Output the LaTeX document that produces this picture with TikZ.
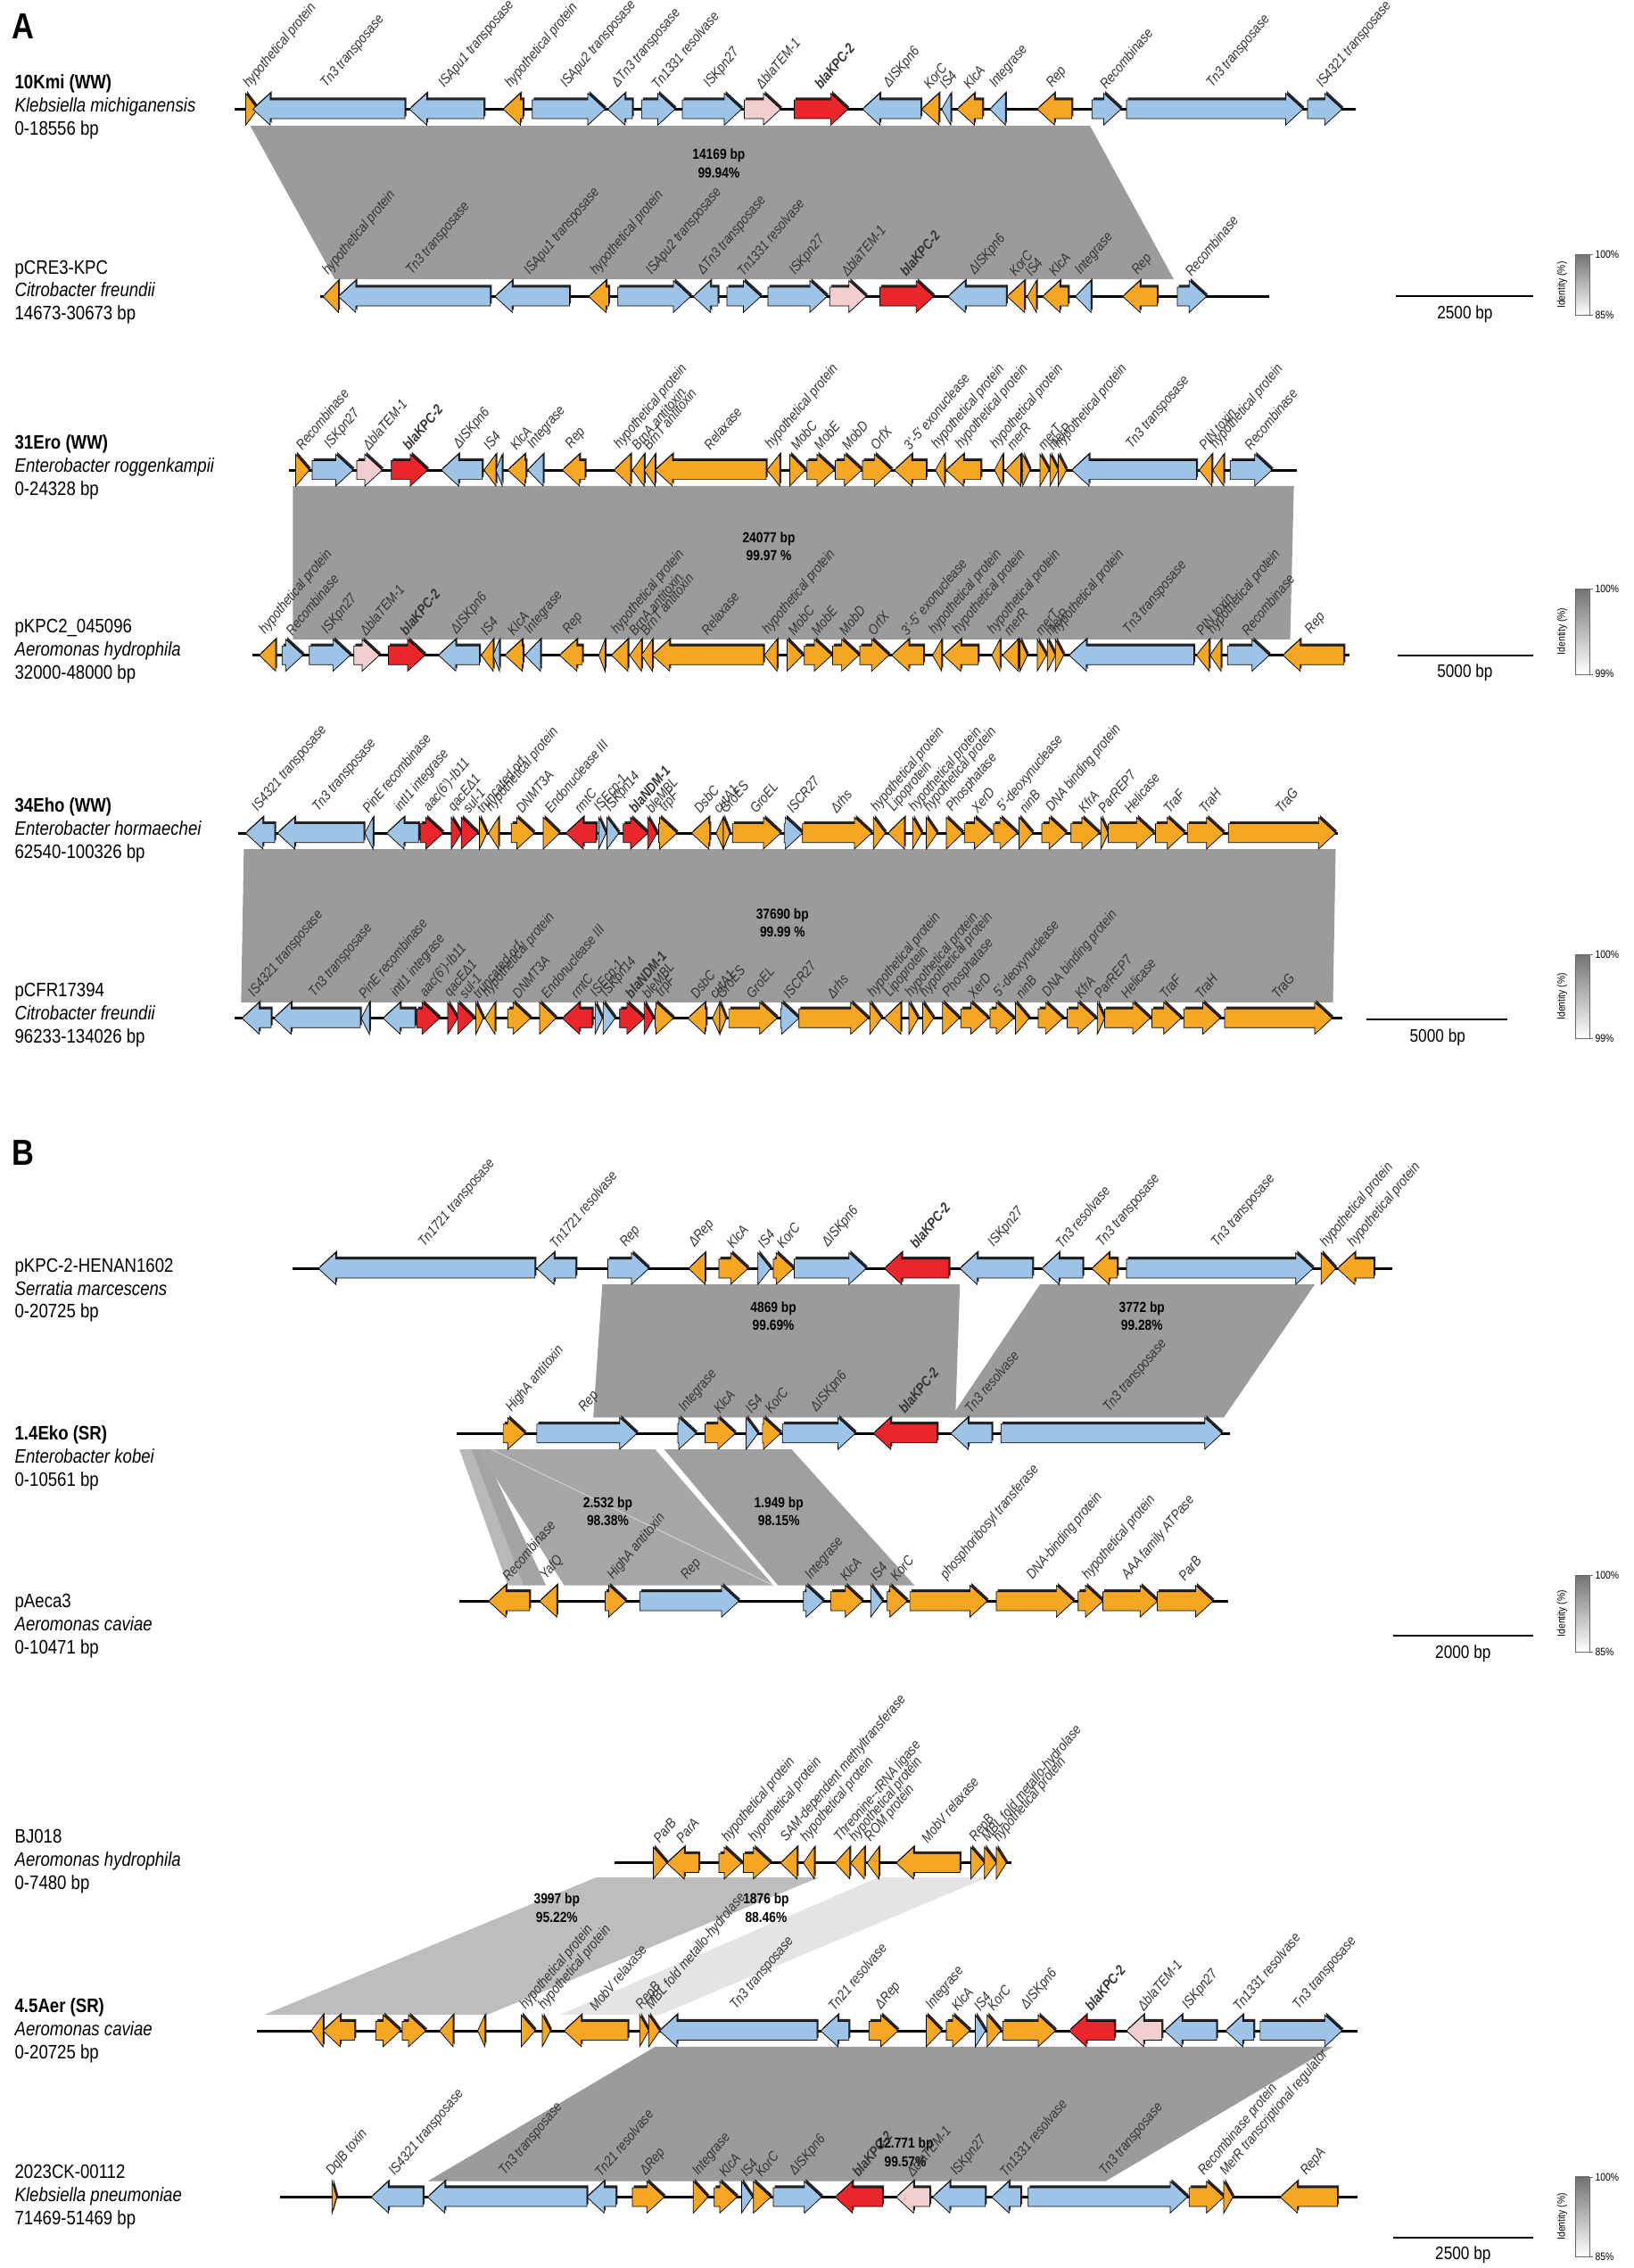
\documentclass[tikz,border=0pt]{standalone}
\usepackage{fontspec}
\setmainfont{Liberation Sans}[FakeStretch=0.85]
\usetikzlibrary{positioning}
\definecolor{cblue}{HTML}{9DC3E6}
\definecolor{corange}{HTML}{F5A623}
\definecolor{cred}{HTML}{E8262B}
\definecolor{cpink}{HTML}{F2CECE}
\definecolor{bandhi}{HTML}{9B9B9B}
\definecolor{bandmid}{HTML}{A7A7A7}
\definecolor{bandlo}{HTML}{BDBDBD}
\definecolor{bandfaint}{HTML}{E4E4E4}
\tikzstyle{gene}=[draw=black,line width=0.45pt,line join=miter]
\tikzstyle{gshade}=[fill=black!85]
\tikzstyle{glbl}=[anchor=south west,rotate=50,inner sep=0pt,text=black!80,font=\fontsize{9.8}{9.8}\selectfont\itshape]
\tikzstyle{bbone}=[line width=1.8pt,black]
\tikzstyle{blbl}=[align=center,inner sep=0pt,font=\fontsize{10}{12.5}\selectfont\bfseries]
\tikzstyle{plbl}=[anchor=west,align=left,inner sep=0pt,font=\fontsize{13.5}{16}\selectfont]
\tikzstyle{sbar}=[line width=1.2pt,black]
\tikzstyle{sbtxt}=[inner sep=0pt,font=\fontsize{12.5}{12.5}\selectfont]
\tikzstyle{lgtxt}=[inner sep=0pt,font=\fontsize{7.5}{7.5}\selectfont]
\tikzstyle{panel}=[inner sep=0pt,font=\fontsize{25}{25}\selectfont\bfseries]

\newcommand{\kpc}{\textbf{blaKPC-2}}
\newcommand{\ndm}{\textbf{blaNDM-1}}
\newcommand{\blemb}{bleMBL}
\newcommand{\dtem}{ΔblaTEM-1}

\newcounter{gid}
% [label]{base x}{tip x}{row y}{fill}
\newcommand{\gene}[5][]{%
  \pgfmathsetmacro\gdir{(#3>#2) ? 1 : -1}%
  \pgfmathsetmacro\ghd{#3-\gdir*min(19,abs(#3-#2))}%
  \fill[gshade,shift={(1.6,-1.6)}] (#2,#4-6.5) -- (\ghd,#4-6.5) -- (\ghd,#4-11) -- (#3,#4) -- (\ghd,#4+11) -- (\ghd,#4+6.5) -- (#2,#4+6.5) -- cycle;
  \filldraw[gene,fill=#5] (#2,#4-6.5) -- (\ghd,#4-6.5) -- (\ghd,#4-11) -- (#3,#4) -- (\ghd,#4+11) -- (\ghd,#4+6.5) -- (#2,#4+6.5) -- cycle;
  \ifx\relax#1\relax\else
    \stepcounter{gid}%
    \node[glbl] (gl\arabic{gid}) at ({(#2+#3)/2},#4-13) {#1};%
  \fi
}
% {name}{top y}{bottom y}{low value}
\newcommand{\idleg}[4]{%
  \shade[top color=black!55,bottom color=white,draw=black!60,line width=0.3pt] (1731,#2) rectangle (1747,#3);
  \draw[black!60,line width=0.3pt] (1747,#2) -- (1751,#2) (1747,#3) -- (1751,#3);
  \node[lgtxt,anchor=west] (#1top) at (1753,#2) {100\%};
  \node[lgtxt,anchor=west] (#1low) at (1753,#3) {#4\%};
  \node[lgtxt,rotate=90] (#1ttl) at (1717,{(#2+#3)/2}) {Identity (\%)};
}

\newcommand{\kmigenes}[2]{%
  \gene[Tn3 transposase]{445}{278}{#1}{cblue}
  \gene[ISApu1 transposase]{532}{450}{#1}{cblue}
  \gene[hypothetical protein]{575}{553}{#1}{corange}
  \gene[ISApu2 transposase]{585}{665}{#1}{cblue}
  \gene[ΔTn3 transposase]{695}{668}{#1}{cblue}
  \gene[Tn1331 resolvase]{705}{742}{#1}{cblue}
  \gene[ISKpn27]{750}{815}{#1}{cblue}
  \gene[\dtem]{818}{858}{#1}{cpink}
  \gene[\kpc]{873}{932}{#1}{cred}
  \gene[ΔISKpn6]{1012}{948}{#1}{cblue}
  \gene[KorC]{1032}{1013}{#1}{corange}
  \gene[IS4]{1045}{1035}{#1}{#2}
  \gene[KlcA]{1080}{1052}{#1}{corange}
  \gene[Integrase]{1105}{1088}{#1}{cblue}
  \gene[Rep]{1178}{1140}{#1}{corange}
  \gene[Recombinase]{1200}{1232}{#1}{cblue}
}

\newcommand{\erogenes}[1]{%
  \gene[ISKpn27]{343}{388}{#1}{cblue}
  \gene[\dtem]{392}{420}{#1}{cpink}
  \gene[\kpc]{430}{470}{#1}{cred}
  \gene[ΔISKpn6]{530}{485}{#1}{cblue}
  \gene[IS4]{545}{532}{#1}{corange}
  \gene{552}{545}{#1}{cblue}
  \gene[KlcA]{578}{558}{#1}{corange}
  \gene[Integrase]{597}{580}{#1}{cblue}
  \gene[Rep]{643}{618}{#1}{corange}
  \gene[hypothetical protein]{693}{675}{#1}{corange}
  \gene[BrnA antitoxin]{708}{695}{#1}{corange}
  \gene[BrnT antitoxin]{720}{708}{#1}{corange}
  \gene[Relaxase]{842}{720}{#1}{corange}
  \gene[hypothetical protein]{857}{843}{#1}{corange}
  \gene[MobC]{868}{885}{#1}{corange}
  \gene[MobE]{887}{917}{#1}{corange}
  \gene[MobD]{918}{947}{#1}{corange}
  \gene[OrfX]{948}{980}{#1}{corange}
  \gene[3'-5' exonuclease]{1018}{983}{#1}{corange}
  \gene[hypothetical protein]{1038}{1028}{#1}{corange}
  \gene[hypothetical protein]{1078}{1040}{#1}{corange}
  \gene[hypothetical protein]{1102}{1093}{#1}{corange}
  \gene[merR]{1122}{1105}{#1}{corange}
  \gene{1124}{1132}{#1}{corange}
  \gene[merT]{1143}{1153}{#1}{corange}
  \gene[merP]{1154}{1163}{#1}{corange}
  \gene[hypothetical protein]{1163}{1172}{#1}{corange}
  \gene[Tn3 transposase]{1315}{1178}{#1}{cblue}
  \gene[PIN toxin]{1332}{1318}{#1}{corange}
  \gene[hypothetical protein]{1345}{1333}{#1}{corange}
  \gene[Recombinase]{1352}{1398}{#1}{cblue}
}

\newcommand{\ehogenes}[1]{%
  \gene[IS4321 transposase]{302}{270}{#1}{cblue}
  \gene[Tn3 transposase]{400}{305}{#1}{cblue}
  \gene[PinE recombinase]{410}{401}{#1}{cblue}
  \gene[intI1 integrase]{460}{425}{#1}{cblue}
  \gene[aac(6')-Ib11]{462}{487}{#1}{cred}
  \gene[qacEΔ1]{496}{507}{#1}{cred}
  \gene[sul-1]{507}{525}{#1}{cred}
  \gene[truncated orf]{527}{535}{#1}{corange}
  \gene[hypothetical protein]{548}{537}{#1}{corange}
  \gene[DNMT3A]{562}{587}{#1}{corange}
  \gene[Endonuclease III]{597}{615}{#1}{corange}
  \gene[rmtC]{655}{622}{#1}{cred}
  \gene[ISEcp-1]{658}{666}{#1}{cblue}
  \gene[ISKpn14]{667}{680}{#1}{cblue}
  \gene[\ndm]{685}{712}{#1}{cred}
  \gene[\blemb]{712}{722}{#1}{cred}
  \gene[trpF]{724}{744}{#1}{corange}
  \gene[DsbC]{780}{760}{#1}{corange}
  \gene[cutA1]{795}{787}{#1}{corange}
  \gene[GroES]{795}{802}{#1}{corange}
  \gene[GroEL]{805}{858}{#1}{corange}
  \gene[ISCR27]{862}{882}{#1}{cblue}
  \gene[Δrhs]{882}{958}{#1}{corange}
  \gene[hypothetical protein]{960}{973}{#1}{corange}
  \gene[Lipoprotein]{994}{976}{#1}{corange}
  \gene[hypothetical protein]{1003}{1013}{#1}{corange}
  \gene[hypothetical protein]{1018}{1030}{#1}{corange}
  \gene[Phosphatase]{1040}{1058}{#1}{corange}
  \gene[XerD]{1060}{1090}{#1}{corange}
  \gene[5'-deoxynuclease]{1092}{1118}{#1}{corange}
  \gene[ninB]{1120}{1135}{#1}{corange}
  \gene[DNA binding protein]{1145}{1172}{#1}{corange}
  \gene[KfrA]{1177}{1208}{#1}{corange}
  \gene[ParREP7]{1210}{1218}{#1}{corange}
  \gene[Helicase]{1218}{1268}{#1}{corange}
  \gene[TraF]{1270}{1302}{#1}{corange}
  \gene[TraH]{1305}{1345}{#1}{corange}
  \gene[TraG]{1350}{1468}{#1}{corange}
}

\begin{document}
\begin{tikzpicture}[x=0.629pt,y=-1pt]
\useasboundingbox[fill=white] (0,0) rectangle (1795,1568);

% identity bands
\fill[bandhi] (275,87) -- (1198,87) -- (1290,193) -- (368,193) -- cycle;
\fill[bandhi] (322,336) -- (1422,336) -- (1418,442) -- (322,442) -- cycle;
\fill[bandhi] (268,587) -- (1468,587) -- (1465,693) -- (265,693) -- cycle;
\fill[bandhi] (662,888) -- (1055,888) -- (1050,980) -- (652,980) -- cycle;
\fill[bandhi] (1143,888) -- (1445,888) -- (1345,980) -- (1045,980) -- cycle;
\fill[black!28] (505,1002) -- (518,1002) -- (575,1096) -- (558,1096) -- cycle;
\fill[black!36] (518,1002) -- (530,1002) -- (600,1096) -- (575,1096) -- cycle;
\fill[bandmid] (525,1002) -- (720,1002) -- (850,1096) -- (620,1096) -- cycle;
\fill[bandmid!95!black] (730,1002) -- (870,1002) -- (1005,1096) -- (855,1096) -- cycle;
\draw[black!15,line width=0.5pt] (540,1002) -- (850,1096);
\draw[white,line width=1pt] (725,1002) -- (853,1096);
\fill[bandlo] (655,1298) -- (900,1298) -- (535,1393) -- (290,1393) -- cycle;
\fill[bandfaint] (965,1298) -- (1085,1298) -- (725,1393) -- (615,1393) -- cycle;
\fill[bandhi] (720,1415) -- (1465,1415) -- (1215,1508) -- (470,1508) -- cycle;

\node[blbl] (b1) at (790,113) {14169 bp\\99.94\%};
\node[blbl] (b2) at (845,378) {24077 bp\\99.97 \%};
\node[blbl] (b3) at (860,638) {37690 bp\\99.99 \%};
\node[blbl] (b4) at (850,910) {4869 bp\\99.69\%};
\node[blbl] (b5) at (1255,910) {3772 bp\\99.28\%};
\node[blbl] (b6) at (668,1045) {2.532 bp\\98.38\%};
\node[blbl] (b7) at (856,1045) {1.949 bp\\98.15\%};
\node[blbl] (b8) at (612,1319) {3997 bp\\95.22\%};
\node[blbl] (b9) at (842,1319) {1876 bp\\88.46\%};
\node[blbl] (b10) at (995,1488) {12.771 bp\\99.57\%};

% panel A
\node[panel] (pA) at (25,18) {A};
\node[plbl] (kmi) at (16,74) {\textbf{10Kmi (WW)}\\\textit{Klebsiella michiganensis}\\0-18556 bp};
\draw[bbone] (258,75.5) -- (1490,75.5);
\gene[hypothetical protein]{270}{283}{75.5}{corange}
\kmigenes{75.5}{cblue}
\gene[Tn3 transposase]{1238}{1432}{75.5}{cblue}
\gene[IS4321 transposase]{1437}{1475}{75.5}{cblue}

\node[plbl] (cre) at (16,202) {pCRE3-KPC\\\textit{Citrobacter freundii}\\14673-30673 bp};
\draw[bbone] (352,205) -- (1395,205);
\gene[hypothetical protein]{372}{355}{205}{corange}
\begin{scope}[shift={(94,0)}]
\kmigenes{205}{corange}
\end{scope}
\coordinate (sbA) at (1610,205);
\draw[sbar] (1534,205) -- (1685,205);
\node[sbtxt,below=6pt of sbA] (sbtA) {2500 bp};
\idleg{lgA}{176}{218}{85}

\node[plbl] (ero) at (16,323) {\textbf{31Ero (WW)}\\\textit{Enterobacter roggenkampii}\\0-24328 bp};
\draw[bbone] (318,325) -- (1425,325);
\gene[Recombinase]{325}{340}{325}{corange}
\erogenes{325}

\node[plbl] (kpcb) at (16,450) {pKPC2\_045096\\\textit{Aeromonas hydrophila}\\32000-48000 bp};
\draw[bbone] (277,453) -- (1483,453);
\gene[hypothetical protein]{303}{285}{453}{corange}
\gene[Recombinase]{310}{333}{453}{cblue}
\begin{scope}[shift={(-3,0)}]
\erogenes{453}
\end{scope}
\gene{665}{658}{453}{corange}
\gene[Rep]{1477}{1410}{453}{corange}
\coordinate (sbB) at (1610,453);
\draw[sbar] (1536,453) -- (1685,453);
\node[sbtxt,below=6pt of sbB] (sbtB) {5000 bp};
\idleg{lgB}{407}{466}{99}

\node[plbl] (eho) at (16,574) {\textbf{34Eho (WW)}\\\textit{Enterobacter hormaechei}\\62540-100326 bp};
\draw[bbone] (262,576) -- (1470,576);
\ehogenes{576}

\node[plbl] (cfr) at (16,702) {pCFR17394\\\textit{Citrobacter freundii}\\96233-134026 bp};
\draw[bbone] (258,704) -- (1475,704);
\begin{scope}[shift={(-4,0)}]
\ehogenes{704}
\end{scope}
\coordinate (sbC) at (1580,705);
\draw[sbar] (1502,705) -- (1657,705);
\node[sbtxt,below=6pt of sbC] (sbtC) {5000 bp};
\idleg{lgC}{660}{718}{99}

% panel B
\node[panel] (pB) at (25,797) {B};
\node[plbl] (hen) at (16,892) {pKPC-2-HENAN1602\\\textit{Serratia marcescens}\\0-20725 bp};
\draw[bbone] (322,877) -- (1530,877);
\gene[Tn1721 transposase]{588}{350}{877}{cblue}
\gene[Tn1721 resolvase]{633}{590}{877}{cblue}
\gene[Rep]{668}{713}{877}{cblue}
\gene[ΔRep]{775}{757}{877}{corange}
\gene[KlcA]{790}{822}{877}{corange}
\gene[IS4]{833}{847}{877}{cblue}
\gene[KorC]{850}{872}{877}{corange}
\gene[ΔISKpn6]{873}{952}{877}{cblue}
\gene[\kpc]{1043}{972}{877}{cred}
\gene[ISKpn27]{1135}{1055}{877}{cblue}
\gene[Tn3 resolvase]{1190}{1145}{877}{cblue}
\gene[Tn3 transposase]{1228}{1200}{877}{corange}
\gene[Tn3 transposase]{1238}{1443}{877}{cblue}
\gene[hypothetical protein]{1452}{1468}{877}{corange}
\gene[hypothetical protein]{1510}{1470}{877}{corange}

\node[plbl] (eko) at (16,1008) {\textbf{1.4Eko (SR)}\\\textit{Enterobacter kobei}\\0-10561 bp};
\draw[bbone] (502,991) -- (1352,991);
\gene[HighA antitoxin]{553}{577}{991}{corange}
\gene[Rep]{590}{700}{991}{cblue}
\gene[Integrase]{745}{765}{991}{cblue}
\gene[KlcA]{775}{808}{991}{corange}
\gene[IS4]{820}{833}{991}{cblue}
\gene[KorC]{838}{858}{991}{corange}
\gene[ΔISKpn6]{860}{940}{991}{cblue}
\gene[\kpc]{1030}{960}{991}{cred}
\gene[Tn3 resolvase]{1090}{1045}{991}{cblue}
\gene[Tn3 transposase]{1100}{1343}{991}{cblue}

\node[plbl] (aeca) at (16,1124) {pAeca3\\\textit{Aeromonas caviae}\\0-10471 bp};
\draw[bbone] (505,1107) -- (1350,1107);
\gene[Recombinase]{582}{537}{1107}{corange}
\gene[YafQ]{612}{593}{1107}{corange}
\gene[HighA antitoxin]{665}{688}{1107}{corange}
\gene[Rep]{703}{812}{1107}{cblue}
\gene[Integrase]{883}{905}{1107}{cblue}
\gene[KlcA]{913}{948}{1107}{corange}
\gene[IS4]{957}{970}{1107}{cblue}
\gene[KorC]{975}{997}{1107}{corange}
\gene[phosphoribosyl transferase]{1000}{1085}{1107}{corange}
\gene[DNA-binding protein]{1095}{1180}{1107}{corange}
\gene[hypothetical protein]{1185}{1212}{1107}{corange}
\gene[AAA family ATPase]{1212}{1272}{1107}{corange}
\gene[ParB]{1272}{1333}{1107}{corange}
\coordinate (sbD) at (1608,1131);
\draw[sbar] (1531,1131) -- (1685,1131);
\node[sbtxt,below=6pt of sbD] (sbtD) {2000 bp};
\idleg{lgD}{1089}{1142}{85}

\node[plbl] (bj) at (16,1287) {BJ018\\\textit{Aeromonas hydrophila}\\0-7480 bp};
\draw[bbone] (675,1288) -- (1112,1288);
\gene[ParB]{718}{733}{1288}{corange}
\gene[ParA]{768}{733}{1288}{corange}
\gene[hypothetical protein]{790}{815}{1288}{corange}
\gene[hypothetical protein]{817}{847}{1288}{corange}
\gene[SAM-dependent methyltransferase]{876}{858}{1288}{corange}
\gene[hypothetical protein]{895}{883}{1288}{corange}
\gene[Threonine{-}{-}tRNA ligase]{934}{918}{1288}{corange}
\gene[hypothetical protein]{950}{935}{1288}{corange}
\gene[ROM protein]{966}{953}{1288}{corange}
\gene[MobV relaxase]{1055}{985}{1288}{corange}
\gene[RepB]{1067}{1082}{1288}{corange}
\gene[MBL fold metallo-hydrolase]{1082}{1095}{1288}{corange}
\gene[hypothetical protein]{1095}{1106}{1288}{corange}

\node[plbl] (aer) at (16,1404) {\textbf{4.5Aer (SR)}\\\textit{Aeromonas caviae}\\0-20725 bp};
\draw[bbone] (282,1404) -- (1492,1404);
\gene{355}{342}{1404}{corange}
\gene{390}{355}{1404}{corange}
\gene{413}{440}{1404}{corange}
\gene{442}{468}{1404}{corange}
\gene{498}{483}{1404}{corange}
\gene{533}{525}{1404}{corange}
\gene[hypothetical protein]{573}{588}{1404}{corange}
\gene[hypothetical protein]{596}{605}{1404}{corange}
\gene[MobV relaxase]{690}{620}{1404}{corange}
\gene[RepB]{703}{713}{1404}{corange}
\gene[MBL fold metallo-hydrolase]{713}{725}{1404}{corange}
\gene[Tn3 transposase]{898}{725}{1404}{cblue}
\gene[Tn21 resolvase]{933}{902}{1404}{cblue}
\gene[ΔRep]{955}{987}{1404}{corange}
\gene[Integrase]{1018}{1035}{1404}{corange}
\gene[KlcA]{1040}{1066}{1404}{corange}
\gene[IS4]{1072}{1083}{1404}{cblue}
\gene[KorC]{1085}{1100}{1404}{corange}
\gene[ΔISKpn6]{1102}{1160}{1404}{corange}
\gene[\kpc]{1225}{1175}{1404}{cred}
\gene[\dtem]{1277}{1238}{1404}{cpink}
\gene[ISKpn27]{1337}{1280}{1404}{cblue}
\gene[Tn1331 resolvase]{1378}{1347}{1404}{cblue}
\gene[Tn3 transposase]{1385}{1475}{1404}{cblue}

\node[plbl] (ck) at (16,1519) {2023CK-00112\\\textit{Klebsiella pneumoniae}\\71469-51469 bp};
\draw[bbone] (308,1519) -- (1492,1519);
\gene[DqlB toxin]{365}{370}{1519}{corange}
\gene[IS4321 transposase]{465}{408}{1519}{cblue}
\gene[Tn3 transposase]{645}{470}{1519}{cblue}
\gene[Tn21 resolvase]{677}{645}{1519}{cblue}
\gene[ΔRep]{695}{730}{1519}{corange}
\gene[Integrase]{762}{778}{1519}{corange}
\gene[KlcA]{785}{810}{1519}{corange}
\gene[IS4]{815}{827}{1519}{cblue}
\gene[KorC]{828}{847}{1519}{corange}
\gene[ΔISKpn6]{850}{903}{1519}{cblue}
\gene[\kpc]{970}{918}{1519}{cred}
\gene[\dtem]{1022}{985}{1519}{cpink}
\gene[ISKpn27]{1083}{1025}{1519}{cblue}
\gene[Tn1331 resolvase]{1122}{1090}{1519}{cblue}
\gene[Tn3 transposase]{1130}{1305}{1519}{cblue}
\gene[Recombinase protein]{1307}{1345}{1519}{corange}
\gene[MerR transcriptional regulator]{1345}{1355}{1519}{corange}
\gene[RepA]{1470}{1407}{1519}{corange}
\coordinate (sbE) at (1608,1547);
\draw[sbar] (1531,1547) -- (1685,1547);
\node[sbtxt,below=6pt of sbE] (sbtE) {2500 bp};
\idleg{lgE}{1505}{1560}{85}
\end{tikzpicture}
\end{document}
